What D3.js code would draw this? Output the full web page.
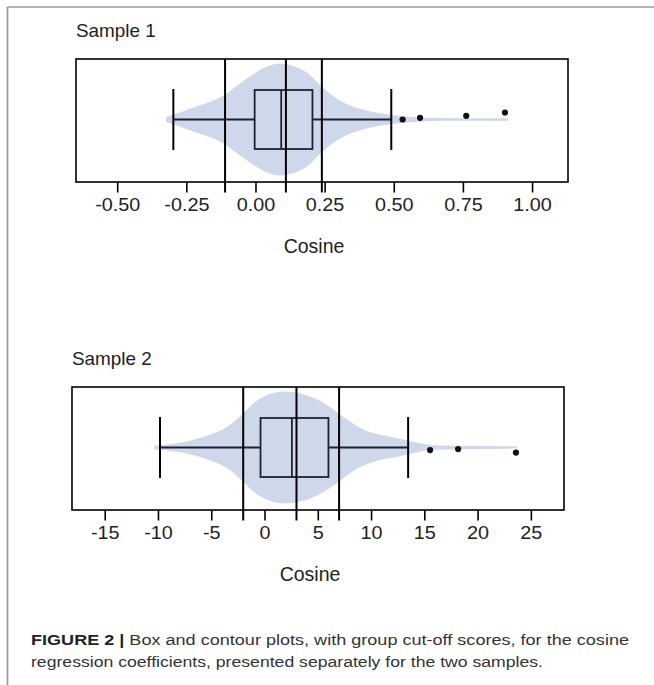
<!DOCTYPE html>
<html>
<head>
<meta charset="utf-8">
<script src="https://cdn.jsdelivr.net/npm/d3@7"></script>
<style>
  body{margin:0;background:#fff;}
  svg{display:block;font-family:"Liberation Sans",Arial,Helvetica,sans-serif;}
</style>
</head>
<body>
<svg id="chart" width="654" height="685"></svg>
<script>
// sample 1
var sample1Ticks=[-0.5,-0.25,0,0.25,0.5,0.75,1];
var sample1Cutoffs=[-0.11,0.11,0.24];
var sample1Box=[-0.297,-0.003,0.093,0.206,0.491];   // lower whisker, q1, median, q3, upper whisker
var sample1Outliers=[0.532,0.595,0.762,0.902];
var sample1Jitter=[0,0.03,0.065,0.125];
var sample1DensX=[-0.324,-0.225,-0.116,-0.056,-0.008,0.041,0.089,0.137,0.186,0.234,0.282,0.330,0.379,0.439,0.499,0.559,0.620,0.740,0.913];
var sample1DensY=[0.04,0.215,0.43,0.645,0.81,0.945,1.0,0.957,0.838,0.61,0.413,0.275,0.19,0.12,0.077,0.048,0.03,0.024,0.022];

// sample 2
var sample2Ticks=[-15,-10,-5,0,5,10,15,20,25];
var sample2Cutoffs=[-2,3,7];
var sample2Box=[-9.81,-0.375,2.57,6.0,13.48];
var sample2Outliers=[15.54,18.17,23.6];
var sample2Jitter=[-0.046,-0.029,-0.09];
var sample2DensX=[-10.35,-8.22,-6.66,-5.09,-3.53,-2.0,-1.03,0.22,1.85,3.35,4.91,6.47,7.73,8.98,10.54,12.1,13.48,14.6,15.85,18.36,23.73];
var sample2DensY=[0.03,0.078,0.14,0.23,0.365,0.61,0.79,0.935,1.0,0.965,0.86,0.68,0.5,0.35,0.24,0.18,0.127,0.078,0.042,0.03,0.02];

var svg=d3.select("#chart");
var violinColor="#cfd8ea";
var boxColor="#1b2233";

// page border
svg.append("line").attr("x1",7.5).attr("y1",7).attr("x2",654).attr("y2",7)
  .attr("stroke","#9a9a9a").attr("stroke-width",1.7);
svg.append("line").attr("x1",7.5).attr("y1",7).attr("x2",7.5).attr("y2",685)
  .attr("stroke","#9a9a9a").attr("stroke-width",1.7);

function drawPanel(p){
  var x=d3.scaleLinear().domain(p.domain).range([p.left,p.left+p.width]);
  var cy=p.top+60.5;
  var y=d3.scaleLinear().domain([-1,1]).range([cy+56,cy-56]);
  var g=svg.append("g");

  var dens=p.densX.map(function(v,i){return [v,p.densY[i]];});
  var area=d3.area()
      .x(function(d){return x(d[0]);})
      .y0(function(d){return y(-d[1]);})
      .y1(function(d){return y(d[1]);})
      .curve(d3.curveMonotoneX);
  g.append("path").datum(dens).attr("d",area).attr("fill",violinColor);

  // whiskers
  var b=p.box;
  g.append("line").attr("x1",x(b[0])).attr("x2",x(b[1])).attr("y1",y(0)).attr("y2",y(0))
    .attr("stroke",boxColor).attr("stroke-width",2);
  g.append("line").attr("x1",x(b[3])).attr("x2",x(b[4])).attr("y1",y(0)).attr("y2",y(0))
    .attr("stroke",boxColor).attr("stroke-width",2);
  [b[0],b[4]].forEach(function(v){
    g.append("line").attr("x1",x(v)).attr("x2",x(v)).attr("y1",y(0.545)).attr("y2",y(-0.545))
      .attr("stroke","#000").attr("stroke-width",2);
  });
  // box
  g.append("rect").attr("x",x(b[1])).attr("y",y(0.527))
    .attr("width",x(b[3])-x(b[1])).attr("height",y(-0.527)-y(0.527))
    .attr("fill","none").attr("stroke",boxColor).attr("stroke-width",1.8);
  g.append("line").attr("x1",x(b[2])).attr("x2",x(b[2])).attr("y1",y(0.527)).attr("y2",y(-0.527))
    .attr("stroke",boxColor).attr("stroke-width",1.8);

  // outliers
  g.selectAll(".out").data(p.outliers).enter().append("circle")
    .attr("class","out")
    .attr("cx",function(d){return x(d);})
    .attr("cy",function(d,i){return y(p.jitter[i]);})
    .attr("r",3.1).attr("fill","#111");

  // cut-off lines
  g.selectAll(".cut").data(p.cutoffs).enter().append("line")
    .attr("class","cut")
    .attr("x1",function(d){return x(d);}).attr("x2",function(d){return x(d);})
    .attr("y1",p.top).attr("y2",p.top+p.height+10.5)
    .attr("stroke","#000").attr("stroke-width",2);

  // frame
  g.append("rect").attr("x",p.left).attr("y",p.top).attr("width",p.width).attr("height",p.height)
    .attr("fill","none").attr("stroke","#000").attr("stroke-width",1.6);

  // axis
  var axis=d3.axisBottom(x).tickValues(p.ticks).tickSize(10.5).tickSizeOuter(0)
    .tickPadding(5.5).tickFormat(p.fmt);
  var ag=g.append("g").attr("transform","translate(0,"+(p.top+p.height)+")").call(axis);
  ag.select(".domain").remove();
  ag.selectAll(".tick line").attr("stroke","#000").attr("stroke-width",1.6);
  ag.selectAll(".tick text").attr("fill","#222").attr("font-size",18)
    .attr("font-family","'Liberation Sans',Arial,sans-serif")
    .attr("transform","scale(1.1,1)");

  svg.append("text").attr("transform","translate("+(p.left)+","+(p.top-22)+") scale(1.05,1)")
    .attr("font-size",18).attr("fill","#222").text(p.title);
  svg.append("text").attr("x",p.left+p.width/2-8).attr("y",p.top+p.height+70.5)
    .attr("text-anchor","middle").attr("font-size",19.5).attr("fill","#222").text("Cosine");
}

drawPanel({title:"Sample 1",left:76,top:59,width:492,height:123,domain:[-0.649,1.130],
  ticks:sample1Ticks,cutoffs:sample1Cutoffs,box:sample1Box,outliers:sample1Outliers,jitter:sample1Jitter,
  densX:sample1DensX,densY:sample1DensY,fmt:function(d){return d.toFixed(2);}});
drawPanel({title:"Sample 2",left:72,top:387,width:492,height:123,domain:[-18.07,28.11],
  ticks:sample2Ticks,cutoffs:sample2Cutoffs,box:sample2Box,outliers:sample2Outliers,jitter:sample2Jitter,
  densX:sample2DensX,densY:sample2DensY,fmt:function(d){return String(d);}});

// caption
var cap1=svg.append("text").attr("x",31).attr("y",645).attr("font-size",15.5).attr("fill","#333")
  .attr("textLength",598).attr("lengthAdjust","spacingAndGlyphs");
cap1.append("tspan").attr("font-weight","bold").attr("fill","#222").text("FIGURE 2 | ");
cap1.append("tspan").text("Box and contour plots, with group cut-off scores, for the cosine");
svg.append("text").attr("x",31).attr("y",667).attr("font-size",15.5).attr("fill","#333")
  .attr("textLength",512).attr("lengthAdjust","spacingAndGlyphs")
  .text("regression coefficients, presented separately for the two samples.");
</script>
</body>
</html>
